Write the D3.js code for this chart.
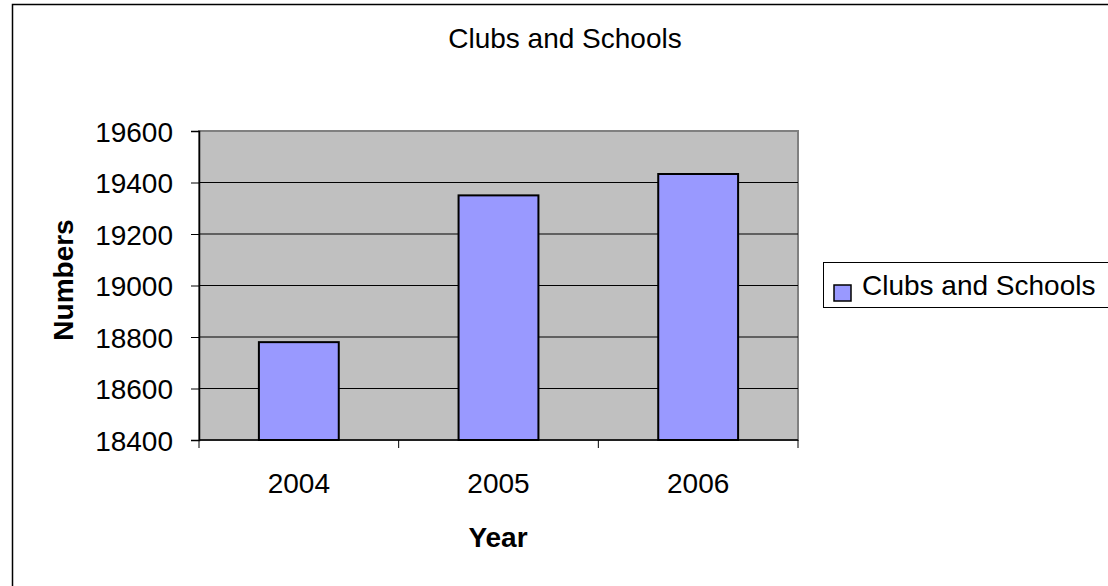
<!DOCTYPE html>
<html><head><meta charset="utf-8">
<script src="https://cdn.jsdelivr.net/npm/d3@7/dist/d3.min.js"></script>
<style>body{margin:0;background:#fff}svg{display:block;font-family:"Liberation Sans",Arial,sans-serif}</style>
</head><body><svg id="c" width="1108" height="586"></svg>
<script>
const categories = ["2004","2005","2006"];
const values = [18780, 19350, 19433];
const yTicks = [18400,18600,18800,19000,19200,19400,19600];
const seriesName = "Clubs and Schools";
const titleText = "Clubs and Schools";
const xTitle = "Year", yTitle = "Numbers";

const FS = 28;
const svg = d3.select("#c");
// outer frame
svg.append("rect").attr("x",12.5).attr("y",4.5).attr("width",1200).attr("height",700)
  .attr("fill","#fff").attr("stroke","#000").attr("stroke-width",1.5);

const L=199, R=798, T=131, B=440;
const x = d3.scaleBand().domain(categories).range([L,R]).padding(0);
const y = d3.scaleLinear().domain([18400,19600]).range([B,T]);

svg.append("rect").attr("x",L).attr("y",T).attr("width",R-L).attr("height",B-T)
  .attr("fill","#C0C0C0").attr("stroke","#808080").attr("stroke-width",2);

// gridlines
svg.append("g").selectAll("line").data(yTicks.slice(1,-1)).join("line")
  .attr("x1",L).attr("x2",R).attr("y1",d=>y(d)).attr("y2",d=>y(d))
  .attr("stroke","#000").attr("stroke-width",1);

// bars
const bw = x.bandwidth()*0.4;
svg.append("g").selectAll("rect").data(values).join("rect")
  .attr("x",(d,i)=>x(categories[i])+x.bandwidth()/2-bw/2)
  .attr("y",d=>y(d)).attr("width",bw).attr("height",d=>B-y(d))
  .attr("fill","#9999FF").attr("stroke","#000").attr("stroke-width",2);

// y axis
const ya = svg.append("g").attr("transform",`translate(${L},0)`)
  .call(d3.axisLeft(y).tickValues(yTicks).tickSize(8).tickPadding(18).tickFormat(d3.format("d")));
ya.select(".domain").attr("stroke","#000").attr("stroke-width",1.5);
ya.selectAll("text").attr("font-size",FS).attr("fill","#000").attr("dy","0.36em")
  .attr("font-family","Liberation Sans, Arial, sans-serif");

// x axis
const xa = svg.append("g").attr("transform",`translate(0,${B})`);
xa.append("line").attr("x1",L).attr("x2",R).attr("stroke","#000").attr("stroke-width",1.5);
const bounds = [...categories.map(c=>x(c)), R];
xa.selectAll(".tk").data(bounds).join("line").attr("class","tk")
  .attr("x1",d=>d).attr("x2",d=>d).attr("y1",0).attr("y2",8).attr("stroke","#000");
xa.selectAll("text").data(categories).join("text")
  .attr("x",d=>x(d)+x.bandwidth()/2).attr("y",53).attr("text-anchor","middle")
  .attr("font-size",FS).text(d=>d);

// titles
svg.append("text").attr("x",565).attr("y",48).attr("text-anchor","middle").attr("font-size",FS).text(titleText);
svg.append("text").attr("x",498).attr("y",547).attr("text-anchor","middle").attr("font-size",FS).attr("font-weight","bold").text(xTitle);
svg.append("text").attr("transform","translate(73,280) rotate(-90)").attr("text-anchor","middle").attr("font-size",FS).attr("font-weight","bold").text(yTitle);

// legend
const lg = svg.append("g");
lg.append("rect").attr("x",823.5).attr("y",262.5).attr("width",300).attr("height",45)
  .attr("fill","#fff").attr("stroke","#000").attr("stroke-width",1);
lg.append("rect").attr("x",834).attr("y",285).attr("width",17).attr("height",16)
  .attr("fill","#9999FF").attr("stroke","#000").attr("stroke-width",1.5);
lg.append("text").attr("x",862).attr("y",295).attr("font-size",FS).text(seriesName);
</script></body></html>
